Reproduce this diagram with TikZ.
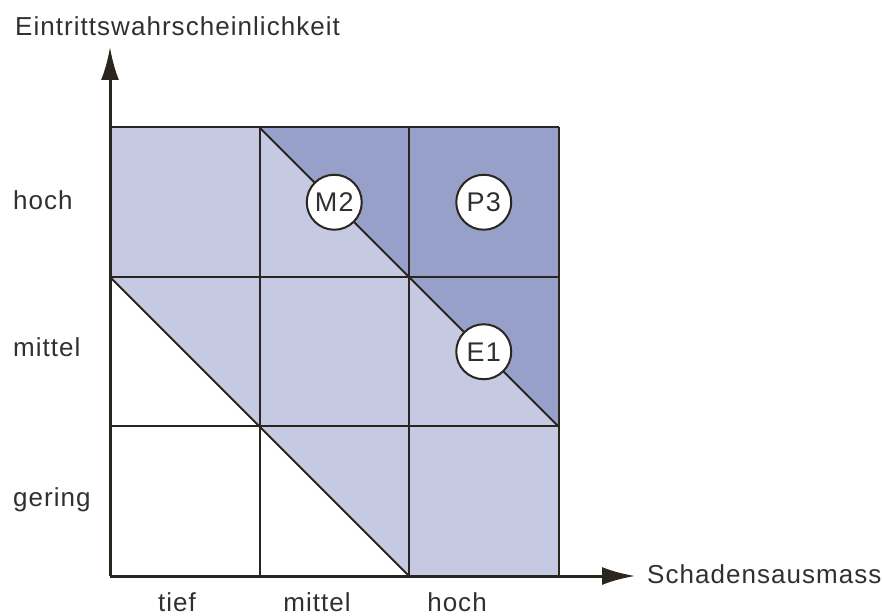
\documentclass[tikz,border=0pt]{standalone}
\usepackage{fontspec}
\setmainfont[LetterSpace=4]{Liberation Sans}
\usepackage{xcolor}
\usetikzlibrary{arrows.meta, positioning}

\definecolor{risklow}{HTML}{C5CAE2}
\definecolor{riskhigh}{HTML}{96A0C8}
\definecolor{inkline}{HTML}{2B2520}
\definecolor{inktext}{HTML}{303030}

\begin{document}
\begin{tikzpicture}[x=1pt, y=1pt]
\tikzstyle{label} = [font=\fontsize{26}{30}\selectfont, text=inktext, inner sep=0pt]
\tikzstyle{gridline} = [draw=inkline, line width=2pt]
\tikzstyle{axis} = [draw=inkline, line width=3pt, -{Latex[length=33pt, width=18pt]}]
\tikzstyle{case} = [circle, draw=inkline, line width=2pt, fill=white, minimum size=55pt, inner sep=0pt, font=\fontsize{27}{30}\selectfont, text=inktext]

\useasboundingbox (-110,-39) rectangle (772,576);

% cells, one unit = 149.5
\coordinate (o) at (0,0);
\coordinate (ytip) at (0,529);
\coordinate (xtip) at (525,0);

\fill[risklow] (0,0) rectangle (448.5,448.5);
\fill[white] (0,0) -- (0,299) -- (299,0) -- cycle;
\fill[riskhigh] (149.5,448.5) -- (448.5,448.5) -- (448.5,149.5) -- cycle;

\foreach \k in {149.5, 299, 448.5} {
  \draw[gridline] (\k,0) -- (\k,448.5);
  \draw[gridline] (0,\k) -- (448.5,\k);
}
\draw[gridline] (0,299) -- (299,0);
\draw[gridline] (149.5,448.5) -- (448.5,149.5);

\draw[axis] (o) -- (ytip);
\draw[axis] (o) -- (xtip);

% cases
\node (m2) [case] at (224.25,373.75) {M2};
\node (p3) [case] at (373.75,373.75) {P3};
\node (e1) [case] at (373.75,224.25) {E1};

% axis labels
\node (ytitle) [label, anchor=base west] at (-95,540) {Eintrittswahrscheinlichkeit};
\node (xtitle) [label, anchor=base west] at (537,-7) {Schadensausmass};
\node (yhigh) [label, anchor=base west] at (-97,366.5) {hoch};
\node (ymid) [label, anchor=base west] at (-97,219) {mittel};
\node (ylow) [label, anchor=base west] at (-97,69) {gering};
\node (xlow) [label, anchor=base] at (67,-35) {tief};
\node (xmid) [label, anchor=base] at (207,-35) {mittel};
\node (xhigh) [label, anchor=base] at (347,-35) {hoch};
\end{tikzpicture}
\end{document}
